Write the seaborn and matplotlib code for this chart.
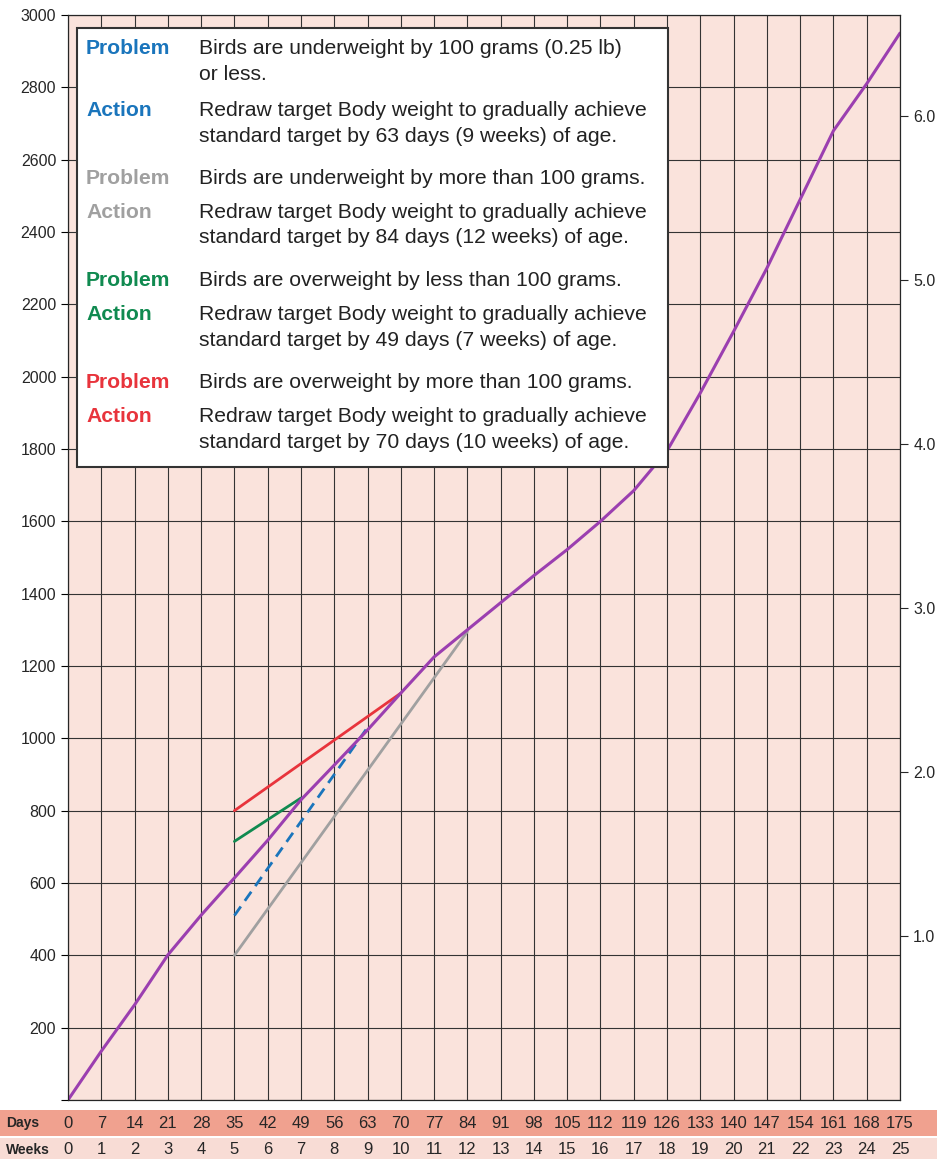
import numpy as np
import matplotlib
matplotlib.use("Agg")
import matplotlib.pyplot as plt
import seaborn as sns
from matplotlib.patches import Rectangle

sns.set_style("white")
plt.rcParams['font.family'] = ['Liberation Sans', 'DejaVu Sans']

# target body weight curve (days, grams)
days = [0, 7, 14, 21, 28, 35, 42, 49, 56, 63, 70, 77, 84, 91, 98, 105, 112,
        119, 126, 133, 140, 147, 154, 161, 168, 175]
weight = [0, 135, 263, 401, 511, 614, 718, 830, 926, 1023, 1125, 1225, 1300,
          1375, 1450, 1522, 1600, 1685, 1795, 1955, 2125, 2300, 2490, 2680, 2810, 2950]

# redrawn targets
red_d, red_w = [35, 70], [800, 1125]
green_d, green_w = [35, 49], [715, 835]
blue_d, blue_w = [35, 63], [510, 1030]
gray_d, gray_w = [35, 84], [400, 1295]

lb_ticks = [1.0, 2.0, 3.0, 4.0, 5.0, 6.0]

BLUE, GRAY, GREEN, RED, PURPLE = '#1a75bc', '#a0a0a0', '#108a50', '#e8343c', '#9b3fb0'

fig = plt.figure(figsize=(9.45, 11.59), dpi=100)
W, H = 945, 1159
ax = fig.add_axes([68 / W, 1 - 1100 / H, 832 / W, 1085 / H])
ax.set_facecolor('#fae3dc')

sns.lineplot(x=gray_d, y=gray_w, ax=ax, color=GRAY, lw=2)
sns.lineplot(x=blue_d, y=blue_w, ax=ax, color=BLUE, lw=2, linestyle=(0, (4, 2.5)))
sns.lineplot(x=green_d, y=green_w, ax=ax, color=GREEN, lw=2)
sns.lineplot(x=red_d, y=red_w, ax=ax, color=RED, lw=2)
sns.lineplot(x=days, y=weight, ax=ax, color=PURPLE, lw=2.2)

ax.set_xlim(0, 175)
ax.set_ylim(0, 3000)
ax.set_xticks(np.arange(0, 176, 7))
ax.set_xticklabels([])
ax.set_yticks(np.arange(0, 3001, 200))
ax.set_yticklabels([''] + [str(v) for v in range(200, 3001, 200)], fontsize=11.5)
ax.tick_params(axis='y', length=5, color='black', direction='out')
ax.tick_params(axis='x', length=0)
ax.grid(True, color='#333333', lw=0.8)
ax.set_axisbelow(True)
for s in ax.spines.values():
    s.set_color('black')

ax2 = ax.twinx()
ax2.set_ylim(0, 3000 / 453.6)
ax2.set_yticks(lb_ticks)
ax2.set_yticklabels([f'{v:.1f}' for v in lb_ticks], fontsize=11.5)
ax2.tick_params(axis='y', length=6, direction='out')

# legend box
ax.add_patch(Rectangle((0.011, 0.583), 0.71, 0.405, transform=ax.transAxes,
                       facecolor='white', edgecolor='#333333', lw=1.5, zorder=5))
rows = [
    (48, 'Problem', BLUE, 'Birds are underweight by 100 grams (0.25 lb)'),
    (74, None, None, 'or less.'),
    (110, 'Action', BLUE, 'Redraw target Body weight to gradually achieve'),
    (136, None, None, 'standard target by 63 days (9 weeks) of age.'),
    (178, 'Problem', GRAY, 'Birds are underweight by more than 100 grams.'),
    (212, 'Action', GRAY, 'Redraw target Body weight to gradually achieve'),
    (238, None, None, 'standard target by 84 days (12 weeks) of age.'),
    (281, 'Problem', GREEN, 'Birds are overweight by less than 100 grams.'),
    (315, 'Action', GREEN, 'Redraw target Body weight to gradually achieve'),
    (341, None, None, 'standard target by 49 days (7 weeks) of age.'),
    (383, 'Problem', RED, 'Birds are overweight by more than 100 grams.'),
    (417, 'Action', RED, 'Redraw target Body weight to gradually achieve'),
    (443, None, None, 'standard target by 70 days (10 weeks) of age.'),
]
for y, lab, col, txt in rows:
    yf = 1 - y / H
    if lab:
        fig.text(86 / W, yf, lab, color=col, fontsize=15.2, fontweight='bold',
                 va='center', zorder=6)
    fig.text(199 / W, yf, txt, color='#222222', fontsize=15.2, va='center', zorder=6)

# bottom bands
fig.patches.append(Rectangle((0, 1 - 1136 / H), 937 / W, 26 / H, transform=fig.transFigure,
                             facecolor='#f0a18f', edgecolor='none'))
fig.patches.append(Rectangle((0, 0), 937 / W, 21 / H, transform=fig.transFigure,
                             facecolor='#f8dcd5', edgecolor='none'))
fig.text(6 / W, 1 - 1123 / H, 'Days', fontsize=10, fontweight='bold', va='center')
fig.text(6 / W, 1 - 1150 / H, 'Weeks', fontsize=10, fontweight='bold', va='center')
for i, d in enumerate(days):
    xf = (68 + d * 832 / 175) / W
    fig.text(xf, 1 - 1123 / H, str(d), fontsize=12, ha='center', va='center')
    fig.text(xf, 1 - 1150 / H, str(i), fontsize=12, ha='center', va='center')

fig.savefig('out.png', dpi=100, facecolor='white')
